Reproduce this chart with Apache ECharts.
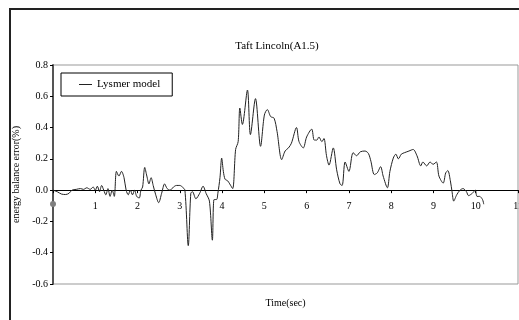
<!DOCTYPE html>
<html>
<head>
<meta charset="utf-8">
<script src="https://cdn.jsdelivr.net/npm/echarts@6/dist/echarts.min.js"></script>
<style>
  html, body { margin: 0; padding: 0; background: #fff; }
  #chart { width: 519px; height: 320px; }
</style>
</head>
<body>
<div id="chart"></div>
<script>
// time (sec) and energy balance error (%)
var times = [0, 0.1, 0.2, 0.3, 0.38, 0.45, 0.55, 0.65, 0.72, 0.8, 0.88, 0.95, 1.0, 1.05, 1.1, 1.15, 1.2, 1.25, 1.3, 1.35,
  1.4, 1.45, 1.5, 1.56, 1.62, 1.68, 1.73, 1.78, 1.83, 1.88, 1.93, 1.98, 2.04, 2.08, 2.12, 2.17, 2.22, 2.27, 2.32, 2.37,
  2.43, 2.5, 2.57, 2.64, 2.7, 2.77, 2.85, 2.92, 3.0, 3.06, 3.12, 3.2, 3.26, 3.3, 3.38, 3.47, 3.55, 3.62, 3.7, 3.77,
  3.81, 3.87, 3.9, 3.95, 3.99, 4.03, 4.07, 4.13, 4.18, 4.25, 4.32, 4.38, 4.42, 4.48, 4.6, 4.67, 4.79, 4.91, 5.0, 5.07,
  5.15, 5.23, 5.3, 5.41, 5.49, 5.57, 5.64, 5.76, 5.82, 5.92, 6.0, 6.12, 6.18, 6.24, 6.29, 6.36, 6.41, 6.47, 6.53, 6.63,
  6.71, 6.79, 6.84, 6.91, 7.0, 7.1, 7.18, 7.27, 7.38, 7.46, 7.52, 7.6, 7.67, 7.75, 7.81, 7.91, 7.97, 8.05, 8.11, 8.17,
  8.24, 8.32, 8.42, 8.52, 8.61, 8.7, 8.75, 8.84, 8.92, 8.99, 9.07, 9.13, 9.23, 9.29, 9.34, 9.4, 9.44, 9.48, 9.55, 9.63,
  9.7, 9.78, 9.83, 9.92, 9.99, 10.03, 10.09, 10.16, 10.19];
var errors = [0, -0.01, -0.025, -0.028, -0.02, 0, 0.005, 0.01, 0.005, 0.015, 0.005, 0.02, 0.0, 0.025, -0.01, 0.03, 0.0, -0.03, 0.01, -0.04,
  0.0, -0.04, 0.12, 0.09, 0.12, 0.08, 0.0, -0.03, 0.0, -0.03, 0.0, -0.04, -0.05, 0.0, 0.02, 0.145, 0.09, 0.04, 0.08, 0.03,
  -0.03, -0.08, -0.02, 0.04, 0.01, 0.0, 0.02, 0.03, 0.03, 0.02, 0.0, -0.355, -0.02, -0.01, -0.055, -0.02, 0.025, -0.02, -0.07, -0.32,
  -0.06, -0.06, -0.02, 0.08, 0.205, 0.12, 0.07, 0.06, 0.04, 0.01, 0.26, 0.31, 0.525, 0.42, 0.64, 0.355, 0.585, 0.28, 0.48, 0.515,
  0.47, 0.46, 0.375, 0.195, 0.25, 0.27, 0.30, 0.40, 0.31, 0.27, 0.34, 0.39, 0.32, 0.32, 0.34, 0.31, 0.33, 0.22, 0.16, 0.27,
  0.13, 0.04, 0.03, 0.18, 0.12, 0.24, 0.22, 0.245, 0.25, 0.235, 0.185, 0.10, 0.11, 0.15, 0.09, 0.015, 0.12, 0.205, 0.23, 0.20,
  0.23, 0.24, 0.25, 0.26, 0.22, 0.155, 0.18, 0.155, 0.18, 0.165, 0.18, 0.09, 0.045, 0.11, 0.125, 0.06, -0.01, -0.07, -0.03, 0.0,
  0.01, -0.01, -0.035, -0.02, 0.0, -0.04, -0.04, -0.06, -0.09];
var seriesName = 'Lysmer model';

var points = times.map(function (t, i) { return [t, errors[i]]; });
var serif = 'Liberation Serif';

var myChart = echarts.init(document.getElementById('chart'));
myChart.setOption({
  animation: false,
  title: {
    text: 'Taft Lincoln(A1.5)',
    left: 272,
    textAlign: 'center',
    top: 36,
    textStyle: { fontFamily: serif, fontSize: 11, fontWeight: 'normal', color: '#000' }
  },
  legend: {
    data: [seriesName],
    left: 61,
    top: 73,
    orient: 'vertical',
    borderColor: '#000',
    borderWidth: 1,
    padding: [6, 12, 6, 18],
    itemWidth: 13,
    itemHeight: 1,
    icon: 'rect',
    textStyle: { fontFamily: serif, fontSize: 11, color: '#000' }
  },
  grid: {
    left: 53, right: 1, top: 65, bottom: 36,
    containLabel: false,
    outerBoundsMode: 'none',
    show: true, borderColor: '#999', borderWidth: 1, backgroundColor: 'transparent'
  },
  xAxis: {
    type: 'value',
    min: 0, max: 11, interval: 1,
    name: 'Time(sec)',
    nameLocation: 'middle',
    nameGap: 14,
    nameTextStyle: { fontFamily: serif, fontSize: 10, color: '#000' },
    axisLine: { onZero: true, lineStyle: { color: '#000', width: 1 } },
    axisTick: { show: true, length: 3, lineStyle: { color: '#000' } },
    splitLine: { show: false },
    axisLabel: {
      margin: -83,
      fontFamily: serif, fontSize: 10, color: '#000',
      formatter: function (v) { return v === 0 ? '{dot|}' : String(v); },
      rich: { dot: { width: 6, height: 6, borderRadius: 3, backgroundColor: '#808080' } }
    }
  },
  yAxis: {
    type: 'value',
    min: -0.6, max: 0.8, interval: 0.2,
    name: 'energy balance error(%)',
    nameLocation: 'middle',
    nameGap: 31,
    nameTextStyle: { fontFamily: serif, fontSize: 10, color: '#000' },
    axisLine: { show: true, lineStyle: { color: '#555', width: 2 } },
    axisTick: { show: true, length: 3, lineStyle: { color: '#000' } },
    splitLine: { show: false },
    axisLabel: {
      margin: 5,
      fontFamily: serif, fontSize: 10, color: '#000',
      formatter: function (v) { return v.toFixed(1); }
    }
  },
  graphic: [{
    type: 'rect',
    shape: { x: 10, y: 9, width: 540, height: 340 },
    style: { fill: null, stroke: '#222', lineWidth: 2 },
    silent: true
  }],
  series: [{
    name: seriesName,
    type: 'line',
    data: points,
    showSymbol: false,
    smooth: 0.3,
    lineStyle: { color: '#222', width: 1 },
    itemStyle: { color: '#222' }
  }]
});
</script>
</body>
</html>
